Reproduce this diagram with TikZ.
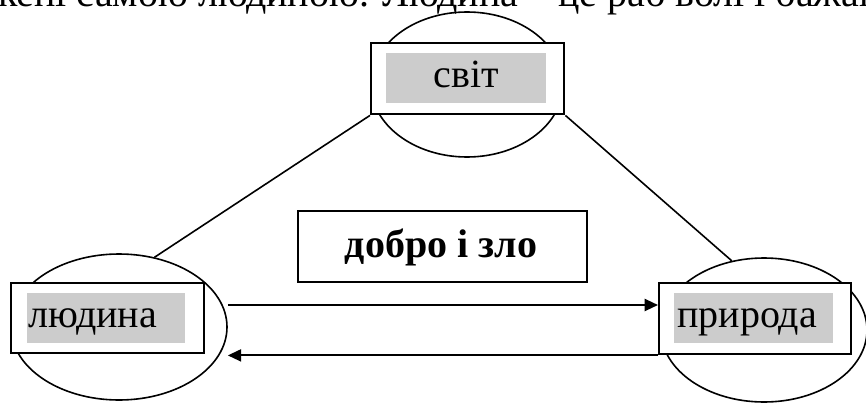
\documentclass[tikz,border=0pt]{standalone}
\usepackage{fontspec}
\setmainfont{Liberation Serif}
\usetikzlibrary{shapes.geometric,arrows.meta,calc}
\begin{document}
\begin{tikzpicture}[x=0.75pt,y=-0.75pt,
  ell/.style={draw, line width=1.2pt, ellipse, inner sep=0pt},
  box/.style={draw, line width=1.8pt, fill=white, rectangle, inner sep=0pt, anchor=north west},
  shadebox/.style={fill=gray!40, rectangle, inner sep=0pt, anchor=north west},
  lbl/.style={font=\fontsize{30}{36}\selectfont, inner sep=0pt},
  ln/.style={line width=1.2pt},
  arr/.style={line width=1.6pt, -{Triangle[length=10pt,width=9pt]}}]
\useasboundingbox (0,0) rectangle (866,403);
\begin{scope}
\clip (0,0) rectangle (866,403);
\node[lbl, anchor=base west] (toptext) at (-2,7) {кені самою людиною. Людина – це раб волі і бажань};
% ellipses
\node[ell, minimum width=144pt, minimum height=108.75pt] (topell) at (467,84.5) {};
\node[ell, minimum width=162pt, minimum height=109.5pt] (leftell) at (119,327) {};
\node[ell, minimum width=154.5pt, minimum height=108pt] (rightell) at (764,330) {};
% boxes
\node[box, minimum width=144.75pt, minimum height=53.25pt] (topbox) at (370,42) {};
\node[shadebox, minimum width=120pt, minimum height=37.5pt] (topgray) at (386,53) {};
\node[lbl, anchor=base] (toplbl) at (466,88) {світ};
\node[box, minimum width=144.75pt, minimum height=52.5pt] (leftbox) at (10,282) {};
\node[shadebox, minimum width=118.5pt, minimum height=37.5pt] (leftgray) at (27,293) {};
\node[lbl, anchor=base west] (leftlbl) at (28,327) {людина};
\node[box, minimum width=144pt, minimum height=53.25pt] (rightbox) at (658,282) {};
\node[shadebox, minimum width=119.25pt, minimum height=37.5pt] (rightgray) at (674,293) {};
\node[lbl, anchor=base west] (rightlbl) at (677,327) {природа};
\node[box, minimum width=216.75pt, minimum height=53.25pt] (midbox) at (297,210) {};
\node[lbl, anchor=base, font=\fontsize{30}{36}\selectfont\bfseries] (midlbl) at (441,257) {добро і зло};
% connectors
\draw[ln] (topbox.south west) -- (leftell.63);
\draw[ln] (topbox.south east) -- (rightell.115);
\coordinate (a1) at ([yshift=16.5pt]leftell.east);
\draw[arr] (a1) -- (a1 -| rightbox.west);
\draw[arr] (rightbox.south west) -- (rightbox.south west -| leftell.east);
\end{scope}
\end{tikzpicture}
\end{document}
